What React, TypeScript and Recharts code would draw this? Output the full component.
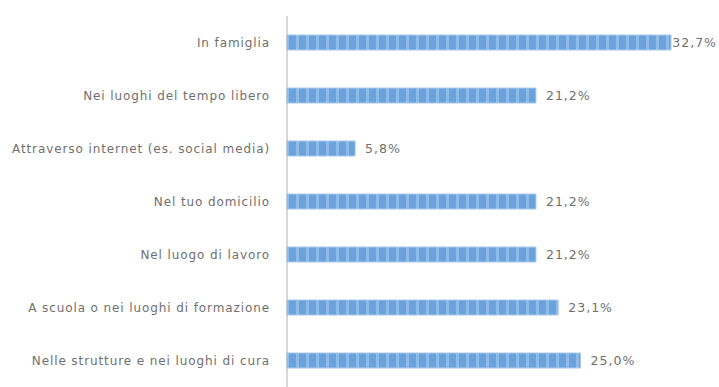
import React from 'react';
import { BarChart, Bar, XAxis, YAxis, LabelList } from 'recharts';

const categories = [
  'In famiglia',
  'Nei luoghi del tempo libero',
  'Attraverso internet (es. social media)',
  'Nel tuo domicilio',
  'Nel luogo di lavoro',
  'A scuola o nei luoghi di formazione',
  'Nelle strutture e nei luoghi di cura',
];
const values = [32.7, 21.2, 5.8, 21.2, 21.2, 23.1, 25.0];

const data = categories.map((c, i) => ({ name: c, value: values[i] }));

const fmt = (v: number) => v.toFixed(1).replace('.', ',') + '%';

const CHART_W = 719;

const ValueLabel = (props: any) => {
  const { x, y, width, height, value } = props;
  const start = Number(x) + Number(width) + 10;
  const estW = 46;
  const fits = start + estW <= CHART_W - 2;
  return (
    <text
      x={fits ? start : CHART_W - 2}
      y={Number(y) + Number(height) / 2}
      dy="0.355em"
      textAnchor={fits ? 'start' : 'end'}
      fontSize={12.5}
      letterSpacing={1}
      fill="#707070"
      fontFamily="DejaVu Sans"
    >
      {fmt(Number(value))}
    </text>
  );
};

export default function App() {
  return (
    <div style={{ position: 'fixed', left: 0, top: 0, width: 719, height: 387, background: '#fff' }}>
      <BarChart
        width={CHART_W}
        height={387}
        data={data}
        layout="vertical"
        margin={{ top: 16, right: 21, bottom: 0, left: 0 }}
        barCategoryGap={0}
      >
        <defs>
          <pattern id="stripes" x="0" y="0" width="10" height="20" patternUnits="userSpaceOnUse">
            <rect x="0" y="0" width="10" height="20" fill="#6aa2db" />
            <rect x="6" y="0" width="3" height="20" fill="#90bbe7" />
          </pattern>
        </defs>
        <XAxis type="number" domain={[0, 35]} hide />
        <YAxis
          type="category"
          dataKey="name"
          width={287}
          axisLine={{ stroke: '#b0b0b0' }}
          tickLine={false}
          tickSize={0}
          tickMargin={17}
          tick={{ fontSize: 12, fill: '#707070', fontFamily: 'DejaVu Sans', letterSpacing: 0.9 }}
          interval={0}
        />
        <Bar
          dataKey="value"
          barSize={15}
          fill="url(#stripes)"
          stroke="#a8caee"
          strokeWidth={1}
          isAnimationActive={false}
        >
          <LabelList dataKey="value" content={<ValueLabel />} />
        </Bar>
      </BarChart>
    </div>
  );
}
